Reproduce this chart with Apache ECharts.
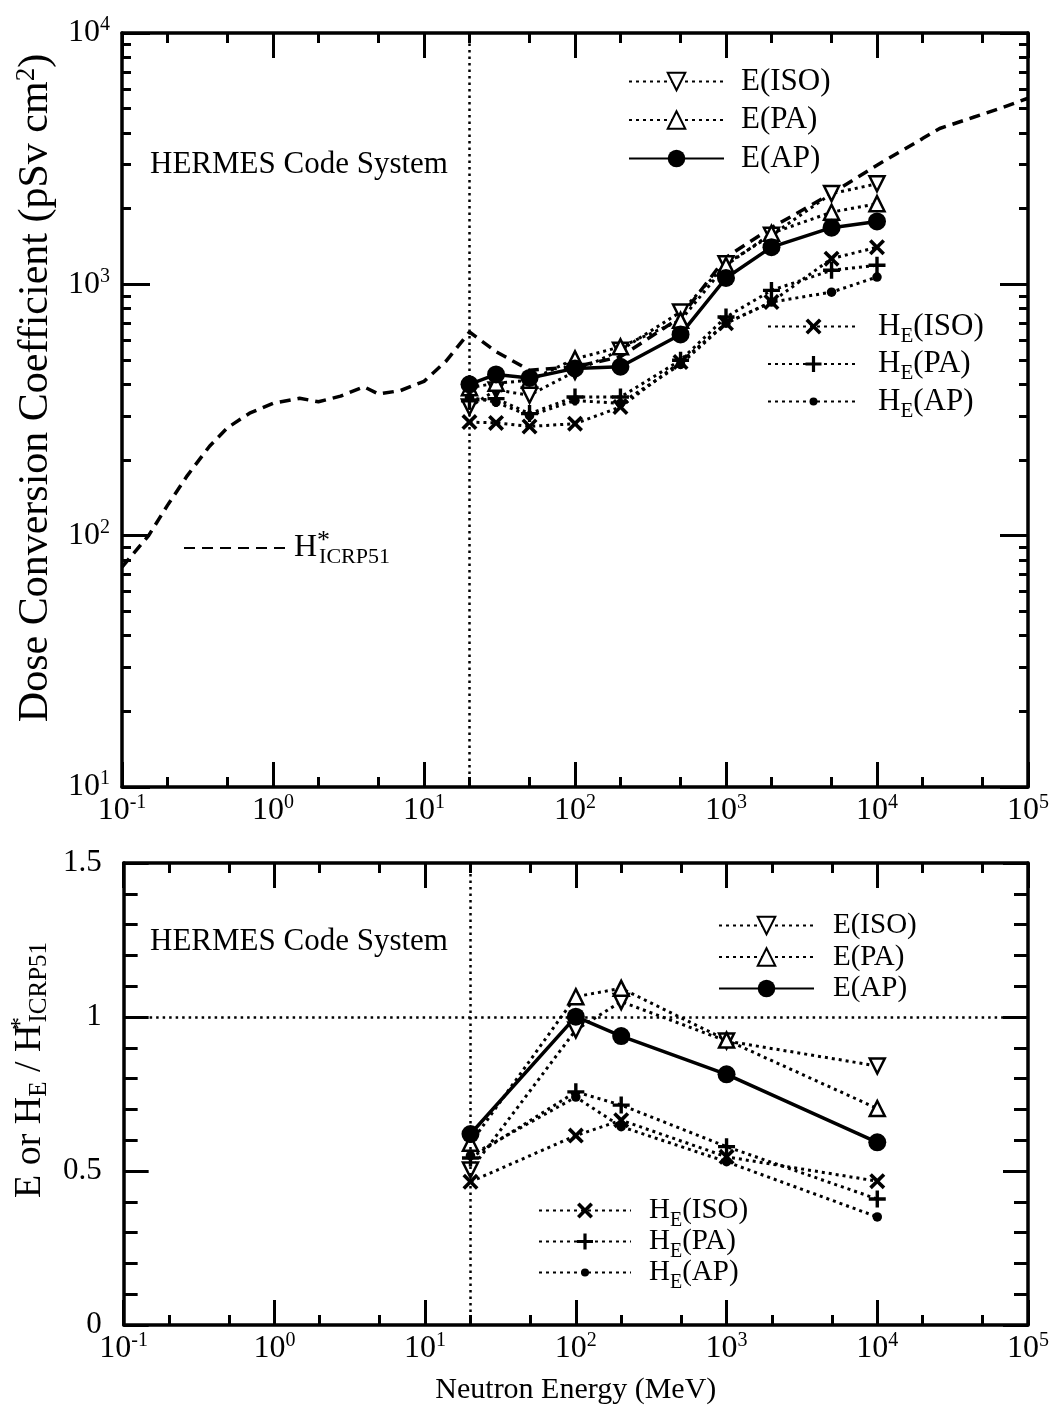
<!DOCTYPE html>
<html><head><meta charset="utf-8">
<script src="https://cdn.jsdelivr.net/npm/echarts@6/dist/echarts.min.js"></script>
<style>html,body{margin:0;padding:0;background:#fff}#c{width:1056px;height:1412px}</style>
</head><body><div id="c"></div>
<script>
// ---------------- data ----------------
// upper panel: dose conversion coefficients (pSv cm^2)
const energyTop = [20, 30, 50, 100, 200, 500, 1000, 2000, 5000, 10000];
const eIsoTop  = [325, 380, 362, 450, 547, 776, 1208, 1567, 2296, 2512];
const ePaTop   = [388, 404, 415, 505, 564, 719, 1190, 1596, 1936, 2094];
const eApTop   = [400, 438, 424, 463, 470, 632, 1060, 1406, 1680, 1780];
const heIsoTop = [283, 281, 272, 279, 325, 491, 700, 851, 1265, 1405];
const hePaTop  = [344, 351, 306, 356, 356, 499, 741, 946, 1137, 1191];
const heApTop  = [355, 340, 300, 345, 336, 480, 700, 850, 931, 1069];
// H*(10) ICRP51 curve
const hStarEnergy = [0.1, 0.15, 0.2, 0.27, 0.38, 0.5, 0.7, 1, 1.5, 2, 2.8, 4, 5, 7, 10, 14, 20, 30, 50, 100, 200, 500, 1000, 2000, 5000, 10000, 20000, 26000, 43000, 65000, 100000];
const hStarValue  = [75, 100, 132, 173, 227, 269, 307, 336, 352, 341, 359, 391, 366, 378, 411, 495, 646, 540, 455, 470, 515, 740, 1280, 1680, 2300, 2980, 3800, 4170, 4610, 5010, 5500];
// lower panel: ratio to H*ICRP51
const energyBot = [20, 100, 200, 1000, 10000];
const rEIso  = [0.503, 0.958, 1.050, 0.922, 0.841];
const rEPa   = [0.590, 1.066, 1.093, 0.925, 0.703];
const rEAp   = [0.620, 1.001, 0.938, 0.814, 0.593];
const rHeIso = [0.465, 0.615, 0.665, 0.546, 0.467];
const rHePa  = [0.542, 0.757, 0.714, 0.579, 0.409];
const rHeAp  = [0.550, 0.740, 0.644, 0.530, 0.351];
// tick positions
const xMajor = [0.1, 1, 10, 100, 1000, 10000, 100000];
const xMinor = [0.2, 0.5, 2, 5, 20, 50, 200, 500, 2000, 5000, 20000, 50000];
const yMajorTop = [10, 100, 1000, 10000];
const yMinorTop = [20,30,40,50,60,70,80,90,200,300,400,500,600,700,800,900,2000,3000,4000,5000,6000,7000,8000,9000];
const yMajorBot = [0, 0.5, 1, 1.5];
const yMinorBot = [0.1,0.2,0.3,0.4,0.6,0.7,0.8,0.9,1.1,1.2,1.3,1.4];

// ---------------- styles ----------------
const F = 'Liberation Serif';
const K = '#000';
const DOT = [3, 4];
const DASH = [11, 7];
const SYM = {
  down: 'path://M0,0 L10,0 L5,9 Z',
  up: 'path://M5,0 L10,9 L0,9 Z',
  cross: 'path://M0,1.6 L1.6,0 L5,3.4 L8.4,0 L10,1.6 L6.6,5 L10,8.4 L8.4,10 L5,6.6 L1.6,10 L0,8.4 L3.4,5 Z',
  plus: 'path://M4,0 L6,0 L6,4 L10,4 L10,6 L6,6 L6,10 L4,10 L4,6 L0,6 L0,4 L4,4 Z',
  dot: 'path://M0,0 M10,10 M2.5,5 A2.5,2.5 0 1 1 7.5,5 A2.5,2.5 0 1 1 2.5,5 Z'
};
const STYLE = {
  'E(ISO)':  {symbol: SYM.down, symbolSize: 15, itemStyle: {color: '#fff', borderColor: K, borderWidth: 2.5}, lineStyle: {color: K, width: 3, type: DOT}},
  'E(PA)':   {symbol: SYM.up, symbolSize: 15, itemStyle: {color: '#fff', borderColor: K, borderWidth: 2.5}, lineStyle: {color: K, width: 3, type: DOT}},
  'E(AP)':   {symbol: 'circle', symbolSize: 18, itemStyle: {color: K}, lineStyle: {color: K, width: 3.5, type: 'solid'}},
  'HE(ISO)': {symbol: SYM.cross, symbolSize: 16, itemStyle: {color: K}, lineStyle: {color: K, width: 3, type: DOT}},
  'HE(PA)':  {symbol: SYM.plus, symbolSize: 17, itemStyle: {color: K}, lineStyle: {color: K, width: 3, type: DOT}},
  'HE(AP)':  {symbol: SYM.dot, symbolSize: 19, itemStyle: {color: K}, lineStyle: {color: K, width: 3, type: DOT}}
};
function pairs(xs, ys) { return xs.map((x, i) => [x, ys[i]]); }
function series(name, xs, ys, xi, yi, extra) {
  return Object.assign({type: 'line', name: name, xAxisIndex: xi, yAxisIndex: yi,
    data: pairs(xs, ys), showSymbol: true, animation: false, z: 3}, STYLE[name], extra || {});
}
const refLine = {color: K, width: 2.5, type: [2.5, 4]};

// ---------------- axes ----------------
function supLabel(v) {
  const e = Math.round(Math.log10(v));
  return '{b|10}{s|' + e + '}';
}
const supRich = {
  b: {fontFamily: F, fontSize: 32, color: K, lineHeight: 36},
  s: {fontFamily: F, fontSize: 20, color: K, lineHeight: 20, verticalAlign: 'top'}
};
function xAxis(grid, pos, ticks, len, line, label, extra) {
  return Object.assign({
    type: 'log', logBase: 10, gridIndex: grid, position: pos, min: 0.1, max: 100000,
    axisLine: {show: line, onZero: false, lineStyle: {color: K, width: 3.5}},
    axisTick: {show: true, inside: true, length: len, customValues: ticks, lineStyle: {color: K, width: 3}},
    axisLabel: label ? {show: true, customValues: xMajor, margin: 6, formatter: supLabel, rich: supRich} : {show: false},
    splitLine: {show: false}, minorTick: {show: false}
  }, extra || {});
}
function yAxisTop(pos, ticks, len, line, label, extra) {
  return Object.assign({
    type: 'log', logBase: 10, gridIndex: 0, position: pos, min: 10, max: 10000,
    axisLine: {show: line, onZero: false, lineStyle: {color: K, width: 3.5}},
    axisTick: {show: true, inside: true, length: len, customValues: ticks, lineStyle: {color: K, width: 3}},
    axisLabel: label ? {show: true, customValues: yMajorTop, margin: 12, formatter: supLabel, rich: supRich} : {show: false},
    splitLine: {show: false}, minorTick: {show: false}
  }, extra || {});
}
function yAxisBot(pos, ticks, len, line, label, extra) {
  return Object.assign({
    type: 'value', gridIndex: 1, position: pos, min: 0, max: 1.5,
    axisLine: {show: line, onZero: false, lineStyle: {color: K, width: 3.5}},
    axisTick: {show: true, inside: true, length: len, customValues: ticks, lineStyle: {color: K, width: 3}},
    axisLabel: label ? {show: true, customValues: yMajorBot, margin: 22, fontFamily: F, fontSize: 31, color: K} : {show: false},
    splitLine: {show: false}, minorTick: {show: false}
  }, extra || {});
}

const xAxes = [
  xAxis(0, 'bottom', xMajor, 25, true, true),
  xAxis(0, 'bottom', xMinor, 10, false, false),
  xAxis(0, 'top', xMajor, 25, true, false),
  xAxis(0, 'top', xMinor, 10, false, false),
  xAxis(1, 'bottom', xMajor, 25, true, true, {
    name: 'Neutron Energy (MeV)', nameLocation: 'middle', nameGap: 50,
    nameTextStyle: {fontFamily: F, fontSize: 30, color: K}
  }),
  xAxis(1, 'bottom', xMinor, 10, false, false),
  xAxis(1, 'top', xMajor, 25, true, false),
  xAxis(1, 'top', xMinor, 10, false, false)
];
const yAxes = [
  yAxisTop('left', yMajorTop, 28, true, true, {
    name: '{n|Dose Conversion Coefficient (pSv cm}{s|2}{n|)}', nameLocation: 'middle', nameGap: 62,
    nameTextStyle: {padding: [0, 0, 0, 44], rich: {
      n: {fontFamily: F, fontSize: 42, color: K, lineHeight: 46},
      s: {fontFamily: F, fontSize: 27, color: K, lineHeight: 27, verticalAlign: 'top'}
    }}
  }),
  yAxisTop('left', yMinorTop, 9, false, false),
  yAxisTop('right', yMajorTop, 28, true, false),
  yAxisTop('right', yMinorTop, 9, false, false),
  yAxisBot('left', yMajorBot, 25, true, true, {
    name: '{n|E or H}{b|E}{n| / H}{p|*}{b|ICRP51}', nameLocation: 'middle', nameGap: 62,
    nameTextStyle: {padding: [0, 0, 0, 48], rich: {
      n: {fontFamily: F, fontSize: 38, color: K, lineHeight: 44},
      b: {fontFamily: F, fontSize: 25, color: K, lineHeight: 25, verticalAlign: 'bottom'},
      p: {fontFamily: F, fontSize: 26, color: K, lineHeight: 24, verticalAlign: 'top', width: 2}
    }}
  }),
  yAxisBot('left', yMinorBot, 14, false, false),
  yAxisBot('right', yMajorBot, 25, true, false),
  yAxisBot('right', yMinorBot, 14, false, false)
];

// ---------------- series ----------------
const seriesList = [
  {type: 'line', name: 'Hstar', xAxisIndex: 0, yAxisIndex: 0, data: pairs(hStarEnergy, hStarValue),
   symbol: 'none', showSymbol: false, animation: false, z: 2,
   itemStyle: {color: K}, lineStyle: {color: K, width: 3.5, type: DASH},
   markLine: {silent: true, symbol: ['none', 'none'], label: {show: false}, animation: false,
     lineStyle: refLine, data: [{xAxis: 20}]}},
  series('E(ISO)', energyTop, eIsoTop, 0, 0),
  series('E(PA)', energyTop, ePaTop, 0, 0),
  series('HE(ISO)', energyTop, heIsoTop, 0, 0),
  series('HE(PA)', energyTop, hePaTop, 0, 0),
  series('HE(AP)', energyTop, heApTop, 0, 0),
  series('E(AP)', energyTop, eApTop, 0, 0),
  series('E(ISO)', energyBot, rEIso, 4, 4, {markLine: {silent: true, symbol: ['none', 'none'],
     label: {show: false}, animation: false, lineStyle: refLine, data: [{xAxis: 20}, {yAxis: 1}]}}),
  series('E(PA)', energyBot, rEPa, 4, 4),
  series('HE(ISO)', energyBot, rHeIso, 4, 4),
  series('HE(PA)', energyBot, rHePa, 4, 4),
  series('HE(AP)', energyBot, rHeAp, 4, 4),
  series('E(AP)', energyBot, rEAp, 4, 4)
];

// ---------------- legends (one per row) ----------------
function legendFmt(name) {
  if (name === 'Hstar') return '{h|H}{p|*}{b|ICRP51}';
  if (name.indexOf('HE') === 0) return '{h|H}{b|E}{h|' + name.slice(2) + '}';
  return '{h|' + name + '}';
}
function legendRich(fs) {
  return {
    h: {fontFamily: F, fontSize: fs, color: K, lineHeight: 40},
    b: {fontFamily: F, fontSize: Math.round(fs * 0.68), color: K, lineHeight: 20, verticalAlign: 'bottom'},
    p: {fontFamily: F, fontSize: Math.round(fs * 0.8), color: K, lineHeight: 22, verticalAlign: 'top', width: 2}
  };
}
function legendRow(name, left, cy, w, h, pad, fs, extra) {
  return Object.assign({
    data: [name], left: left, top: cy - 14, padding: 0, orient: 'vertical', itemWidth: w, itemHeight: h,
    selectedMode: false, formatter: legendFmt, iconRotate: 'inherit',
    textStyle: {fontFamily: F, fontSize: fs, color: K, padding: [0, 0, 0, pad], rich: legendRich(fs)}
  }, extra || {});
}
const legends = [
  legendRow('E(ISO)', 628, 80, 95, 22, 12, 31),
  legendRow('E(PA)', 628, 118.5, 95, 22, 12, 31),
  legendRow('E(AP)', 628, 157, 95, 22, 12, 31),
  legendRow('HE(ISO)', 767, 325, 91, 20, 14, 31),
  legendRow('HE(PA)', 767, 362.5, 91, 20, 14, 31),
  legendRow('HE(AP)', 767, 400, 91, 20, 14, 31),
  legendRow('Hstar', 183, 542, 102, 20, 3, 32, {itemStyle: {color: 'rgba(0,0,0,0)', borderColor: 'rgba(0,0,0,0)', borderWidth: 0, opacity: 0}}),
  legendRow('E(ISO)', 718, 925, 95, 22, 14, 29),
  legendRow('E(PA)', 718, 956.5, 95, 22, 14, 29),
  legendRow('E(AP)', 718, 988, 95, 22, 14, 29),
  legendRow('HE(ISO)', 538, 1210, 92, 20, 13, 29),
  legendRow('HE(PA)', 538, 1241, 92, 20, 13, 29),
  legendRow('HE(AP)', 538, 1272, 92, 20, 13, 29)
];

const chart = echarts.init(document.getElementById('c'));
chart.setOption({
  backgroundColor: '#fff',
  animation: false,
  grid: [
    {left: 122, top: 33, width: 906, height: 754},
    {left: 122, top: 863, width: 906, height: 462}
  ],
  xAxis: xAxes,
  yAxis: yAxes,
  legend: legends,
  series: seriesList,
  graphic: [
    {type: 'text', left: 150, top: 149, style: {text: 'HERMES Code System', font: '31px "Liberation Serif"', fill: K}},
    {type: 'text', left: 150, top: 926, style: {text: 'HERMES Code System', font: '31px "Liberation Serif"', fill: K}}
  ]
});
</script></body></html>
